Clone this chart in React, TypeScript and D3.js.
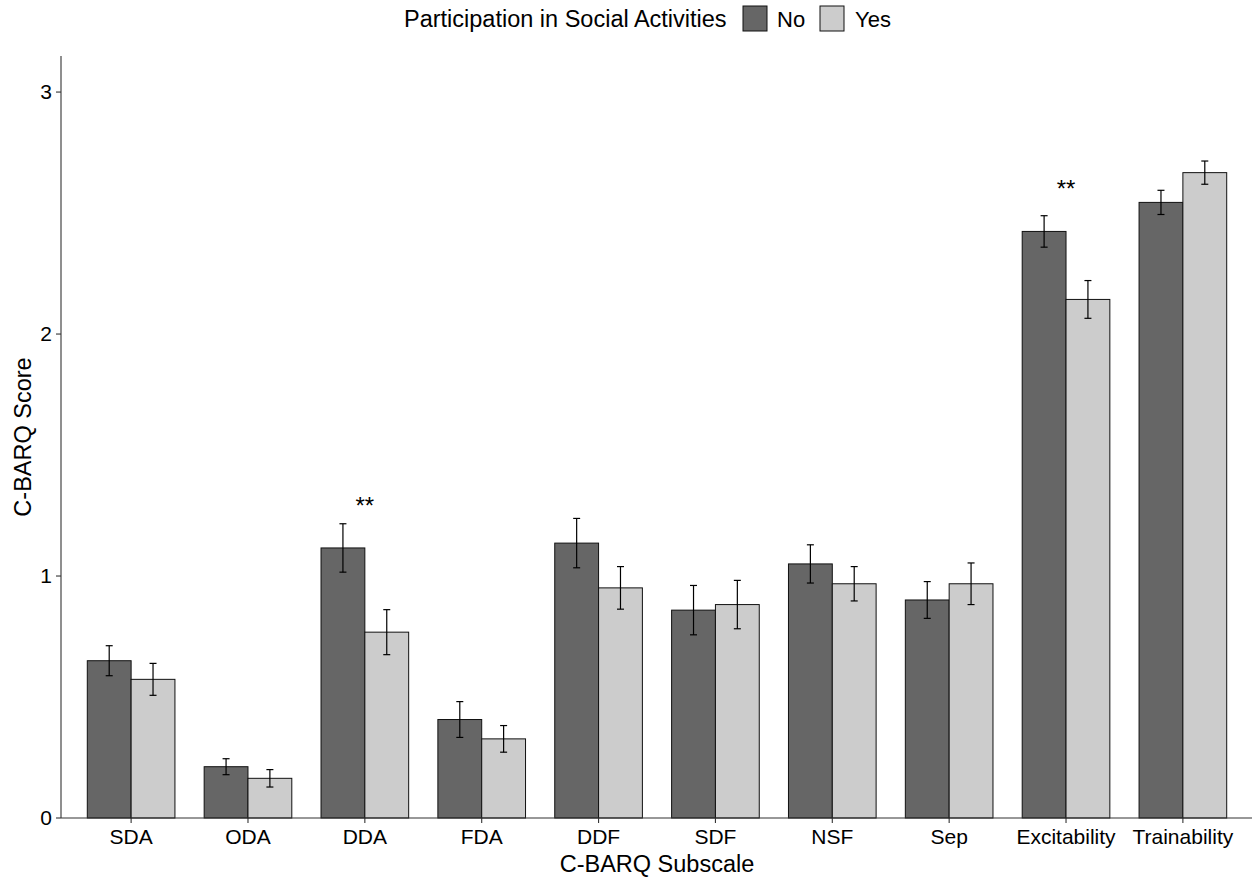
import React from "react";
import * as d3 from "d3";

// C-BARQ subscales and mean scores (± SE) by participation in social activities
const subscales = ["SDA", "ODA", "DDA", "FDA", "DDF", "SDF", "NSF", "Sep", "Excitability", "Trainability"];
const groups = ["No", "Yes"];
const meanNo = [0.65, 0.212, 1.116, 0.407, 1.136, 0.859, 1.05, 0.901, 2.424, 2.544];
const seNo = [0.062, 0.033, 0.1, 0.074, 0.102, 0.102, 0.079, 0.076, 0.065, 0.05];
const meanYes = [0.573, 0.164, 0.768, 0.327, 0.951, 0.882, 0.968, 0.968, 2.143, 2.667];
const seYes = [0.066, 0.036, 0.093, 0.055, 0.088, 0.1, 0.071, 0.086, 0.078, 0.048];
const significant = ["DDA", "Excitability"];
const yTicks = [0, 1, 2, 3];

const W = 1252;
const H = 878;
const FONT = "Arial, 'Liberation Sans', sans-serif";
const FILL: Record<string, string> = { No: "#666666", Yes: "#CCCCCC" };

export default function App() {
  const left = 61, right = 1253, top = 56, bottom = 818;
  const x = d3.scaleBand<string>().domain(subscales).range([left, right]).paddingInner(0).paddingOuter(0.1);
  const step = x.step();
  const y = d3.scaleLinear().domain([0, 3.149]).range([bottom, top]);
  const sub = d3.scaleBand<string>().domain(groups).range([-0.375 * step, 0.375 * step]);
  const cx = (c: string) => (x(c) as number) + step / 2;

  const rows = subscales.flatMap((c, i) => [
    { c, g: "No", m: meanNo[i], se: seNo[i] },
    { c, g: "Yes", m: meanYes[i], se: seYes[i] },
  ]);

  return (
    <svg width={W} height={H} style={{ position: "absolute", left: 0, top: 0, background: "#fff" }} fontFamily={FONT}>
      <rect width={W} height={H} fill="#fff" />
      {/* bars */}
      {rows.map((r) => {
        const x0 = cx(r.c) + (sub(r.g) as number);
        return (
          <rect key={r.c + r.g} x={x0} y={y(r.m)} width={sub.bandwidth()} height={y(0) - y(r.m)}
            fill={FILL[r.g]} stroke="#111" strokeWidth={1} />
        );
      })}
      {/* error bars */}
      {rows.map((r) => {
        const xm = cx(r.c) + (sub(r.g) as number) + sub.bandwidth() / 2;
        const y1 = y(r.m + r.se), y2 = y(r.m - r.se);
        return (
          <g key={"e" + r.c + r.g} stroke="#000" strokeWidth={1.2}>
            <line x1={xm} x2={xm} y1={y1} y2={y2} />
            <line x1={xm - 3.5} x2={xm + 3.5} y1={y1} y2={y1} />
            <line x1={xm - 3.5} x2={xm + 3.5} y1={y2} y2={y2} />
          </g>
        );
      })}
      {/* significance markers, placed above the taller mean */}
      {significant.map((c) => {
        const i = subscales.indexOf(c);
        const hi = Math.max(meanNo[i], meanYes[i]);
        return (
          <text key={"s" + c} x={cx(c)} y={y(hi + 0.195) + 13} textAnchor="middle" fontSize={24} fill="#000">**</text>
        );
      })}
      {/* axes */}
      <line x1={left} x2={left} y1={top} y2={bottom} stroke="#333" strokeWidth={1.1} />
      <line x1={left} x2={right} y1={bottom} y2={bottom} stroke="#333" strokeWidth={1.1} />
      {yTicks.map((t) => (
        <g key={"y" + t}>
          <line x1={left - 5} x2={left} y1={y(t)} y2={y(t)} stroke="#333" strokeWidth={1.1} />
          <text x={left - 9} y={y(t) + 7} textAnchor="end" fontSize={21} fill="#000">{t}</text>
        </g>
      ))}
      {subscales.map((c) => (
        <g key={"x" + c}>
          <line x1={cx(c)} x2={cx(c)} y1={bottom} y2={bottom + 5} stroke="#333" strokeWidth={1.1} />
          <text x={cx(c)} y={844} textAnchor="middle" fontSize={21} fill="#000">{c}</text>
        </g>
      ))}
      <text x={(left + right) / 2} y={872} textAnchor="middle" fontSize={23.5} fill="#000">C-BARQ Subscale</text>
      <text transform={`translate(31, ${(top + bottom) / 2}) rotate(-90)`} textAnchor="middle" fontSize={23.5} fill="#000">C-BARQ Score</text>
      {/* legend */}
      <text x={404} y={27} fontSize={23.5} fill="#000">Participation in Social Activities</text>
      <rect x={743} y={6} width={24} height={25} fill={FILL.No} stroke="#111" strokeWidth={1} />
      <text x={777} y={27} fontSize={22} fill="#000">No</text>
      <rect x={820} y={6} width={24} height={25} fill={FILL.Yes} stroke="#111" strokeWidth={1} />
      <text x={855} y={27} fontSize={22} fill="#000">Yes</text>
    </svg>
  );
}
